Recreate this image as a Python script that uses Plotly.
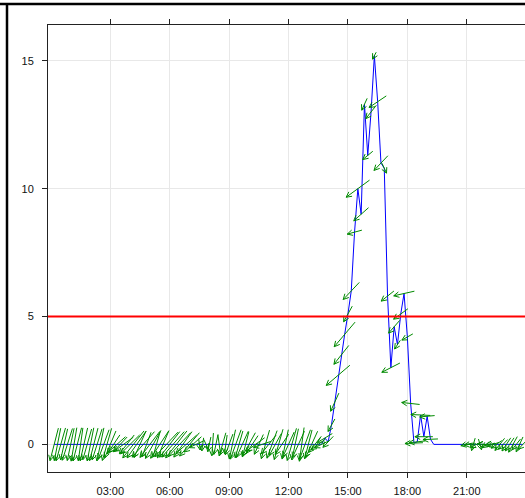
import math
import pandas as pd
import plotly.graph_objects as go

# 10-minute observations, 00:10 .. 23:50
times = pd.date_range("2024-01-01 00:10", periods=143, freq="10min")

# wind speed (m/s), one row per hour (hh:10 .. hh+1:00)
speed = (
    [0, 0, 0, 0, 0, 0] * 13 +
    [0, 0, 0, 0, 0.25, 0.1] +
    [0.75, 1.65, 2.7, 3.5, 4.3, 5.1] +
    [6.0, 8.3, 10.0, 9.0, 13.3, 11.3] +
    [13.0, 15.2, 13.4, 11.0, 10.8, 5.8] +
    [3.0, 4.6, 3.9, 5.1, 5.9, 4.2] +
    [1.6, 0.05, 0.1, 1.15, 0.3, 1.1] +
    [0.2, 0, 0, 0, 0, 0] +
    [0, 0, 0, 0, 0, 0] +
    [0, 0, 0, 0, 0, 0] +
    [0, 0, 0, 0, 0, 0] +
    [0, 0, 0, 0, 0]
)

# wind direction (degrees, direction the wind blows from); None = calm
wind_dir = (
    [18, 14, 20, 16, 22, 15] +
    [12, 18, 10, 16, 20, 14] +
    [18, 22, 15, 25, 20, 28] +
    [40, 55, 50, 60, 45, 52] +
    [45, 42, 30, 48, 25, 44] +
    [35, 20, 40, 28, 50, 45] +
    [48, 45, 50, 42, 55, 47] +
    [55, 70, 350, 10, 330, 15] +
    [5, 15, 350, 20, 10, 25] +
    [15, 25, 20, 30, 18, 35] +
    [40, 60, 30, 75, 20, 45] +
    [25, 35, 20, 40, 15, 30] +
    [20, 15, 30, 10, 25, 18] +
    [30, 45, 60, 70, 65, 50] +
    [35, 30, 56, 45, 47, 35] +
    [50, 78, 60, 55, 30, 57] +
    [45, 34, 62, 50, 330, 58] +
    [68, 48, 40, 60, 80, 66] +
    [95, 88, 85, 92, 90, 86] +
    [88, None, None, None, None, None] +
    [None, None, None, None, None, 80] +
    [85, 20, 70, 340, 95, 60] +
    [80, 75, 60, 45, 50, 40] +
    [40, 35, 45, 30, 50]
)

# directional constancy of the wind (0..1), sets arrow length
constancy = (
    [0.9, 0.88, 0.92, 0.85, 0.9, 0.88] +
    [0.9, 0.92, 0.88, 0.9, 0.86, 0.9] +
    [0.9, 0.88, 0.9, 0.85, 0.9, 0.8] +
    [0.65, 0.7, 0.6, 0.75, 0.7, 0.8] +
    [1.0, 0.95, 0.8, 1.0, 0.7, 0.95] +
    [0.9, 0.7, 0.95, 0.8, 1.0, 0.95] +
    [1.0, 1.0, 0.95, 0.9, 0.85, 0.9] +
    [0.7, 0.5, 0.3, 0.35, 0.3, 0.4] +
    [0.6, 0.55, 0.5, 0.65, 0.5, 0.6] +
    [0.8, 0.85, 0.75, 0.8, 0.7, 0.75] +
    [0.6, 0.7, 0.6, 0.6, 0.8, 0.7] +
    [0.8, 0.7, 0.85, 0.7, 0.8, 0.75] +
    [0.9, 0.85, 0.8, 0.9, 0.85, 0.8] +
    [0.8, 0.6, 0.55, 0.5, 0.55, 0.45] +
    [0.4, 0.55, 0.95, 0.7, 0.95, 0.5] +
    [0.7, 0.5, 0.9, 0.6, 0.36, 0.4] +
    [0.5, 0.22, 0.65, 0.6, 0.3, 0.5] +
    [0.65, 0.5, 0.3, 0.55, 0.7, 0.4] +
    [0.6, 0.6, 0.55, 0.65, 0.6, 0.5] +
    [0.5, None, None, None, None, None] +
    [None, None, None, None, None, 0.4] +
    [0.4, 0.35, 0.45, 0.3, 0.4, 0.35] +
    [0.35, 0.4, 0.4, 0.45, 0.4, 0.45] +
    [0.45, 0.5, 0.4, 0.45, 0.4]
)

threshold = 5
y_ticks = [0, 5, 10, 15]
x_tick_hours = [3, 6, 9, 12, 15, 18, 21]

# ---- layout geometry ----
W, H = 525, 498
ML, MR, MT, MB = 48, 0, 25, 26
plot_w = W - ML - MR
plot_h = H - MT - MB
day0 = pd.Timestamp("2024-01-01")
x0_h, x1_h = -0.146, 23.94
y0, y1 = -1.08, 16.40
px_per_h = plot_w / (x1_h - x0_h)
px_per_u = plot_h / (y1 - y0)

# arrow scaling (pixels for a unit vector in x and y)
KX, KY = 30.0, 38.0
HEAD_LEN, HEAD_ANG = 6.0, math.radians(27)


def to_data(t, v, ox, oy):
    """Shift point (t, v) by a pixel offset (ox right, oy up)."""
    return t + pd.Timedelta(hours=ox / px_per_h), v + oy / px_per_u


ax_x, ax_y = [], []
for t, v, d, c in zip(times, speed, wind_dir, constancy):
    if d is None:
        continue
    th = math.radians(d)
    dx = -math.sin(th) * c * KX
    dy = -math.cos(th) * c * KY
    hx, hy = dx / 2, dy / 2
    tx, ty = -dx / 2, -dy / 2
    ang = math.atan2(dy, dx)
    b1 = (hx + HEAD_LEN * math.cos(ang + math.pi - HEAD_ANG),
          hy + HEAD_LEN * math.sin(ang + math.pi - HEAD_ANG))
    b2 = (hx + HEAD_LEN * math.cos(ang + math.pi + HEAD_ANG),
          hy + HEAD_LEN * math.sin(ang + math.pi + HEAD_ANG))
    for seq in ([(tx, ty), (hx, hy), b1], [(hx, hy), b2]):
        for ox, oy in seq:
            px, py = to_data(t, v, ox, oy)
            ax_x.append(px)
            ax_y.append(py)
        ax_x.append(None)
        ax_y.append(None)

fig = go.Figure()
fig.add_trace(go.Scatter(
    x=times, y=speed, mode="lines",
    line=dict(color="#0000FF", width=1), hoverinfo="skip",
))
fig.add_trace(go.Scatter(
    x=ax_x, y=ax_y, mode="lines",
    line=dict(color="#008A00", width=1), hoverinfo="skip",
))

# threshold line
fig.add_shape(type="line", xref="paper", yref="y", x0=0, x1=1,
              y0=threshold, y1=threshold,
              line=dict(color="#FF0000", width=2), layer="above")

# outer frame (top and left edges)
def px2paper_x(px):
    return (px - ML) / plot_w


def px2paper_y(py):
    return (H - MB - py) / plot_h


fig.add_shape(type="line", xref="paper", yref="paper",
              x0=px2paper_x(0), x1=px2paper_x(W), y0=px2paper_y(4), y1=px2paper_y(4),
              line=dict(color="#000000", width=2.5), layer="above")
fig.add_shape(type="line", xref="paper", yref="paper",
              x0=px2paper_x(7), x1=px2paper_x(7), y0=px2paper_y(4), y1=px2paper_y(H),
              line=dict(color="#000000", width=2.5), layer="above")

font = dict(family="Liberation Sans, Arial, sans-serif", size=11, color="#111111")
fig.update_layout(
    width=W, height=H,
    margin=dict(l=ML, r=MR, t=MT, b=MB, pad=0),
    paper_bgcolor="white", plot_bgcolor="white",
    showlegend=False, font=font,
    xaxis=dict(
        type="date",
        range=[day0 + pd.Timedelta(hours=x0_h), day0 + pd.Timedelta(hours=x1_h)],
        tickvals=[day0 + pd.Timedelta(hours=h) for h in x_tick_hours],
        tickformat="%H:%M",
        showgrid=True, gridcolor="#E8E8E8", gridwidth=1,
        showline=True, linecolor="#222222", linewidth=1, mirror="ticks",
        ticks="outside", ticklen=5, tickcolor="#222222",
        ticklabelstandoff=4, zeroline=False,
    ),
    yaxis=dict(
        range=[y0, y1], tickvals=y_ticks,
        showgrid=True, gridcolor="#E8E8E8", gridwidth=1,
        showline=True, linecolor="#222222", linewidth=1,
        ticks="outside", ticklen=5, tickcolor="#222222",
        ticklabelstandoff=6, zeroline=False,
    ),
)

fig.write_html("out.html")
